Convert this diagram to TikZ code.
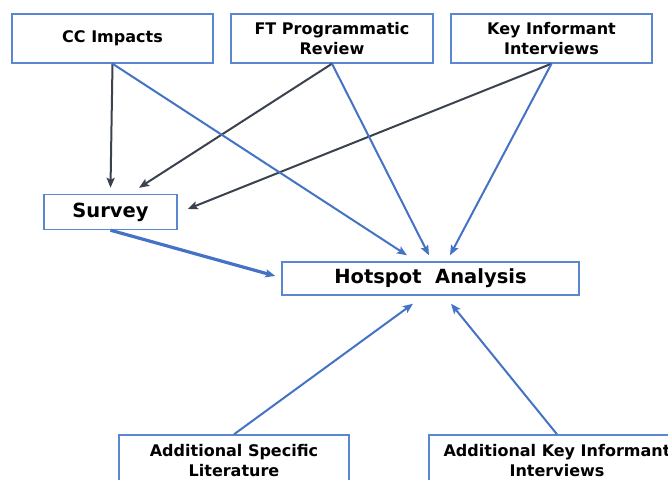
\documentclass[tikz,border=0pt]{standalone}
\usepackage{fontspec}
\setmainfont{DejaVu Sans}
\usepackage{tikz}
\usetikzlibrary{arrows.meta, positioning}
\definecolor{boxblue}{RGB}{91,134,208}
\definecolor{lineblue}{RGB}{68,114,196}
\definecolor{linedark}{RGB}{58,66,80}
\tikzstyle{box} = [rectangle, minimum width = 201, minimum height = 49, draw =
  boxblue, line width = 1.4pt, text centered, align = center, inner sep = 0,
  font = \fontsize{16}{20}\selectfont\bfseries]
\tikzstyle{bigbox} = [
  box,
  font = \fontsize{19.5}{24}\selectfont\bfseries
]
\tikzstyle{dark} = [-{Stealth[length = 10pt, width = 8pt, inset = 2pt]},
  draw = linedark, line width = 2pt]
\tikzstyle{feed} = [-{Stealth[length = 10pt, width = 8pt, inset = 2pt]},
  draw = lineblue, line width = 2pt]

\begin{document}
\begin{tikzpicture}[node distance = 0]
      \useasboundingbox (0, 0) rectangle (668pt, -479pt);
      % top row
      \node [box] (box-cc) at (112.5pt, -38.5pt) {CC Impacts};
      \node [box, right of = box-cc, xshift = 219.5, minimum width = 202] (box-ft) {FT Programmatic\\Review};
      \node [box, right of = box-ft, xshift = 219.5] (box-ki) {Key Informant\\Interviews};
      % middle
      \node [bigbox, below of = box-cc, xshift = -2, yshift = -173.5,
        minimum width = 133, minimum height = 35] (box-survey) {Survey};
      \node [bigbox, below of = box-ft, xshift = 98.5, yshift = -240,
        minimum width = 297, minimum height = 33] (box-hotspot) {Hotspot\ \ Analysis};
      % bottom row
      \node [box, below of = box-survey, xshift = 123.5, yshift = -249,
        minimum width = 230, minimum height = 52] (box-lit) {Additional Specific\\Literature};
      \node [box, right of = box-lit, xshift = 323,
        minimum width = 256, minimum height = 52] (box-aki) {Additional Key Informant\\Interviews};

      \draw [dark] (box-cc.south) -- ([yshift = 6]box-survey.north);
      \draw [dark] (box-ft.south) -- ([xshift = 28.5, yshift = 6]box-survey.north);
      \draw [dark] (box-ki.south) -- ([xshift = 10, yshift = 3]box-survey.east);
      \draw [feed] (box-cc.south) -- ([xshift = -23.5, yshift = 6]box-hotspot.north);
      \draw [feed] (box-ft.south) -- ([xshift = -1.5, yshift = 6]box-hotspot.north);
      \draw [feed] (box-ki.south) -- ([xshift = 19.5, yshift = 6]box-hotspot.north);
      \draw [feed, line width = 3.2pt] (box-survey.south) -- ([xshift = -6, yshift = 2.5]box-hotspot.west);
      \draw [feed] (box-lit.north) -- ([xshift = -17.5, yshift = -8]box-hotspot.south);
      \draw [feed] (box-aki.north) -- ([xshift = 20.5, yshift = -8]box-hotspot.south);
    \end{tikzpicture}
\end{document}
